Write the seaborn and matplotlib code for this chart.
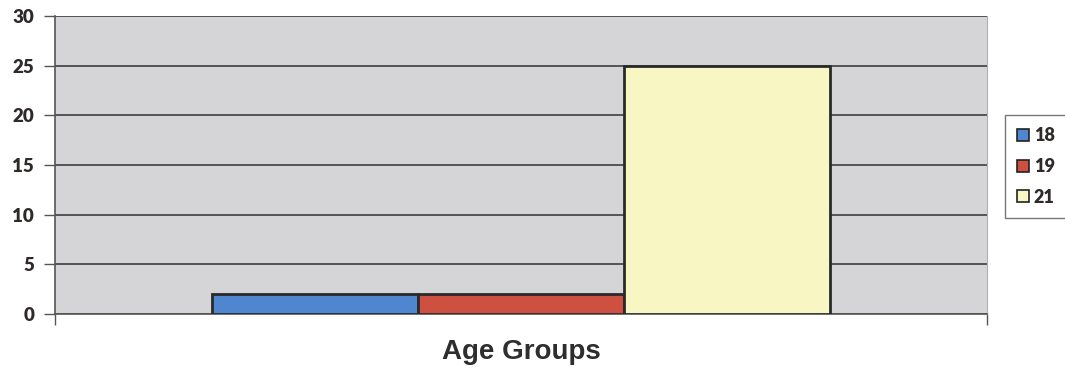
import matplotlib
matplotlib.use("Agg")
import matplotlib.pyplot as plt
import seaborn as sns
import pandas as pd

# Age group counts
group = ["Age Groups"]
ages = ["18", "19", "21"]
counts = [2, 2, 25]
y_ticks = [0, 5, 10, 15, 20, 25, 30]

colors = ["#4f86d0", "#cd5040", "#f8f6c2"]

df = pd.DataFrame({
    "group": group * len(ages),
    "age": ages,
    "count": counts,
})

sns.set_style("white")
plt.rcParams["font.family"] = ["Lato", "DejaVu Sans"]

fig = plt.figure(figsize=(10.65, 3.71), dpi=100)
ax = fig.add_axes([0.0516, 0.1536, 0.8752, 0.8033])
ax.set_facecolor("#d5d5d7")

sns.barplot(data=df, x="group", y="count", hue="age", palette=colors,
            width=0.664, gap=0, edgecolor="#2a2a2a", linewidth=2,
            saturation=1, ax=ax, zorder=3)

ax.set_ylim(0, 30)
ax.set_xlim(-0.5, 0.5)
ax.set_yticks(y_ticks)
ax.set_yticklabels([str(v) for v in y_ticks], fontsize=13.5, fontweight="heavy",
                   color="#2e2a2a")
ax.yaxis.grid(True, color="#4a4a4a", linewidth=1.3, zorder=1)
ax.set_axisbelow(True)

# category boundary ticks on the x axis
ax.set_xticks([-0.5, 0.5])
ax.set_xticklabels(["", ""])
ax.tick_params(axis="x", direction="out", length=8, width=1, color="#555555",
               bottom=True)
ax.tick_params(axis="y", direction="out", length=8, width=1, color="#555555",
               left=True, pad=7)

ax.spines["top"].set_visible(False)
ax.spines["right"].set_color("#b0b0b4")
ax.spines["left"].set_color("#555555")
ax.spines["left"].set_linewidth(1.2)
ax.spines["bottom"].set_color("#555555")
ax.spines["bottom"].set_linewidth(1.2)

ax.set_ylabel("")
ax.set_xlabel("")
fig.text(521 / 1065, 12 / 371, "Age Groups", ha="center", va="baseline",
         fontsize=20, fontweight="bold",
         family=["Liberation Sans", "DejaVu Sans"], color="#2e2e2e")

leg = ax.legend(loc="center left", bbox_to_anchor=(1.019, 0.495), frameon=True,
                fancybox=False, handlelength=0.65, handleheight=0.65,
                handletextpad=0.25, labelspacing=0.75, borderpad=0.7,
                borderaxespad=0,
                prop={"family": "Lato", "weight": "heavy", "size": 13})
leg.get_frame().set_edgecolor("#555555")
leg.get_frame().set_linewidth(1)
for t in leg.get_texts():
    t.set_color("#2e2a2a")
for h in leg.legend_handles:
    h.set_edgecolor("#222222")
    h.set_linewidth(1.2)

fig.savefig("out.png", dpi=100, facecolor="white")
